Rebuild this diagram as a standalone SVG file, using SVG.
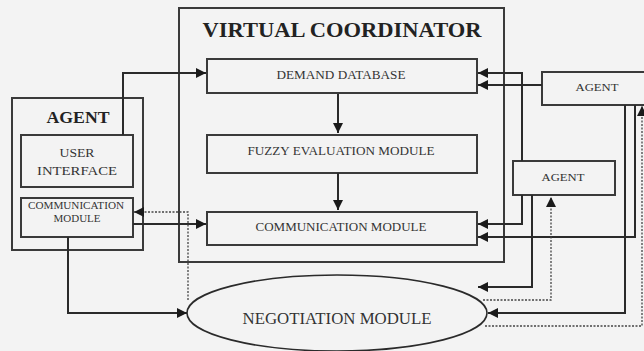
<svg xmlns="http://www.w3.org/2000/svg" width="644" height="351" viewBox="0 0 644 351">
<defs>
<style>
.bg{fill:#f3f3f3}
.box{fill:#f3f3f3;stroke:#3a3a3a;stroke-width:2}
.c{fill:none;stroke:#2a2a2a;stroke-width:2}
.d{fill:none;stroke:#444;stroke-width:1.3;stroke-dasharray:2,1.5}
.t{font-family:"Liberation Serif","Times New Roman",serif;fill:#333;text-anchor:middle;dominant-baseline:central}
.b{font-weight:bold;fill:#222}
</style>
<marker id="ah" markerUnits="userSpaceOnUse" markerWidth="10" markerHeight="10" refX="10" refY="5" orient="auto">
<path d="M0,0 L10,5 L0,10 z" fill="#1a1a1a"/>
</marker>
</defs>
<rect class="bg" x="0" y="0" width="644" height="351"/>

<g id="virtual-coordinator">
<rect class="box" x="179" y="8" width="325" height="254"/>
<text class="t b" x="342" y="30" font-size="20" textLength="279" lengthAdjust="spacingAndGlyphs">VIRTUAL COORDINATOR</text>
</g>
<g id="demand-database">
<rect class="box" x="207" y="59" width="270" height="34"/>
<text class="t" x="341" y="75" font-size="12" textLength="129" lengthAdjust="spacingAndGlyphs">DEMAND DATABASE</text>
</g>
<g id="fuzzy-evaluation">
<rect class="box" x="207" y="135" width="270" height="38"/>
<text class="t" x="341" y="151" font-size="12" textLength="187" lengthAdjust="spacingAndGlyphs">FUZZY EVALUATION MODULE</text>
</g>
<g id="vc-communication">
<rect class="box" x="207" y="212" width="270" height="33"/>
<text class="t" x="341" y="227" font-size="12" textLength="171" lengthAdjust="spacingAndGlyphs">COMMUNICATION MODULE</text>
</g>

<g id="agent-left">
<rect class="box" x="12" y="98" width="131" height="152"/>
<text class="t b" x="78" y="117" font-size="17" textLength="63" lengthAdjust="spacingAndGlyphs">AGENT</text>
</g>
<g id="user-interface">
<rect class="box" x="21" y="135" width="112" height="52"/>
<text class="t" x="77" y="152" font-size="13" textLength="35" lengthAdjust="spacingAndGlyphs">USER</text>
<text class="t" x="77" y="170" font-size="13" textLength="80" lengthAdjust="spacingAndGlyphs">INTERFACE</text>
</g>
<g id="agent-communication">
<rect class="box" x="21" y="198" width="112" height="39"/>
<text class="t" x="76" y="206" font-size="9.5" textLength="96" lengthAdjust="spacingAndGlyphs">COMMUNICATION</text>
<text class="t" x="77" y="219" font-size="9.5" textLength="47" lengthAdjust="spacingAndGlyphs">MODULE</text>
</g>

<g id="agent-top-right">
<rect class="box" x="542" y="72" width="110" height="33"/>
<text class="t" x="597" y="87" font-size="11" textLength="43" lengthAdjust="spacingAndGlyphs">AGENT</text>
</g>
<g id="agent-middle">
<rect class="box" x="513" y="161" width="102" height="34"/>
<text class="t" x="563" y="177" font-size="11" textLength="43" lengthAdjust="spacingAndGlyphs">AGENT</text>
</g>

<g id="negotiation-module">
<ellipse cx="337" cy="313" rx="150" ry="38" fill="#f3f3f3" stroke="#2a2a2a" stroke-width="1.6"/>
<text class="t" x="337" y="318" font-size="17" textLength="189" lengthAdjust="spacingAndGlyphs">NEGOTIATION MODULE</text>
</g>

<g id="connectors">
<path class="c" d="M123,135 V73 H206" marker-end="url(#ah)"/>
<path class="c" d="M338,94 V133" marker-end="url(#ah)"/>
<path class="c" d="M338,173 V210" marker-end="url(#ah)"/>
<path class="c" d="M133,224 H206" marker-end="url(#ah)"/>
<path class="d" d="M188,300 V212 H134" marker-end="url(#ah)"/>
<path class="c" d="M68,237 V313 H187" marker-end="url(#ah)"/>
<path class="c" d="M522,161 V73 H478" marker-end="url(#ah)"/>
<path class="c" d="M542,85 H478" marker-end="url(#ah)"/>
<path class="c" d="M522,195 V224 H478" marker-end="url(#ah)"/>
<path class="c" d="M635,105 V237 H478" marker-end="url(#ah)"/>
<path class="c" d="M532,195 V287 H478" marker-end="url(#ah)"/>
<path class="d" d="M483,300 H551 V197" marker-end="url(#ah)"/>
<path class="c" d="M625,105 V313 H488" marker-end="url(#ah)"/>
<path class="d" d="M485,326 H642 V106" marker-end="url(#ah)"/>
</g>
</svg>
